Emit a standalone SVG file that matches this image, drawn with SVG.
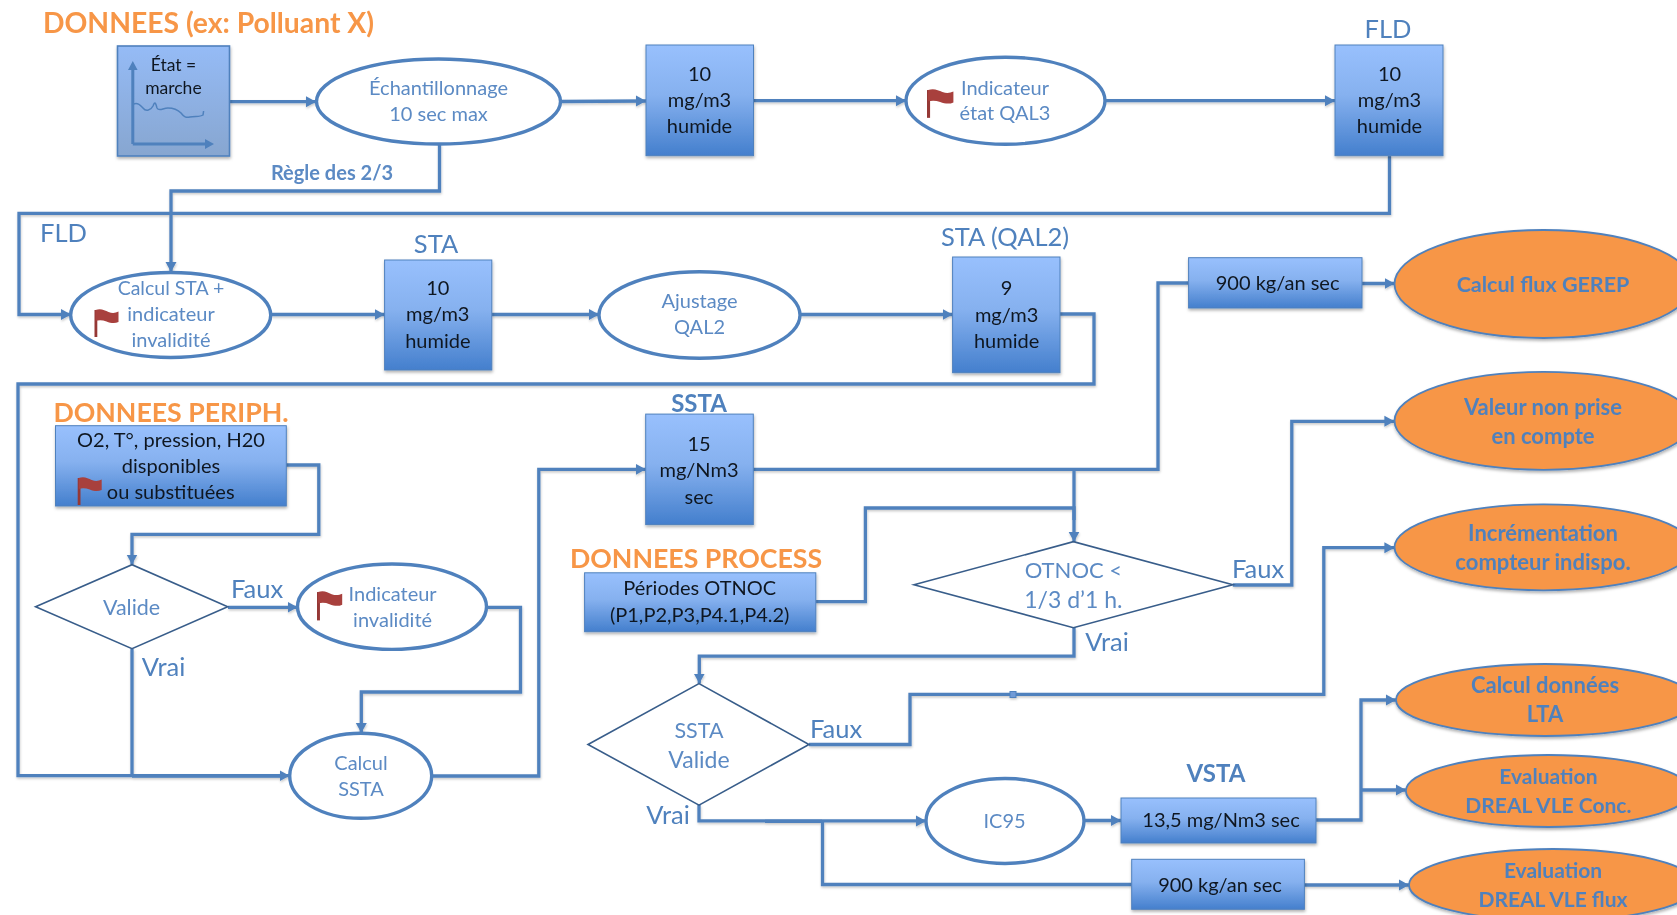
<svg xmlns="http://www.w3.org/2000/svg" xmlns:xlink="http://www.w3.org/1999/xlink" width="1677" height="915" viewBox="0 0 1677 915">
<style>
text{font-family:"Lato","Open Sans","Liberation Sans",sans-serif;text-anchor:middle}
.blk{fill:#111820;font-size:20px}
.blu{fill:#5b8ac4;font-size:20px}
.lab{fill:#4f81bd;font-size:25.5px}
.labb{fill:#4f81bd;font-size:24px;font-weight:700}
.org{fill:#f79646;font-size:26.7px;font-weight:700}
.res{fill:#4f81bd;font-size:22px;font-weight:700}
.box{fill:url(#bg);stroke:#4f81bd;stroke-width:1;filter:url(#sh)}
.ell{fill:#fff;stroke:#4f81bd;stroke-width:3.4}
.oe{fill:#f79646;stroke:#4f81bd;stroke-width:1.8;filter:url(#sh)}
.dia{fill:#fff;stroke:#385d8a;stroke-width:1.6}
.con{fill:none;stroke:#4f81bd;stroke-width:3.3;stroke-linejoin:miter}
.arr{marker-end:url(#ah)}
</style>
<defs>
<linearGradient id="bg" x1="0" y1="0" x2="0" y2="1"><stop offset="0" stop-color="#98c0fd"/><stop offset=".45" stop-color="#86b1ef"/><stop offset="1" stop-color="#447fcd"/></linearGradient>
<linearGradient id="bg2" x1="0" y1="0" x2="0" y2="1"><stop offset="0" stop-color="#95bbf6"/><stop offset="1" stop-color="#87a6d0"/></linearGradient>
<filter id="sh" x="-10%" y="-10%" width="125%" height="130%"><feDropShadow dx="0.5" dy="2" stdDeviation="1.5" flood-color="#000" flood-opacity=".3"/></filter>
<filter id="shl" filterUnits="userSpaceOnUse" x="0" y="0" width="1677" height="915"><feDropShadow dx="0.5" dy="1.5" stdDeviation="1" flood-color="#000" flood-opacity=".22"/></filter>
<filter id="soft" filterUnits="userSpaceOnUse" x="0" y="0" width="1677" height="915"><feGaussianBlur stdDeviation="0.55"/></filter>
<marker id="ah" markerUnits="userSpaceOnUse" markerWidth="11" markerHeight="13" refX="10" refY="6" orient="auto"><path d="M0,0.5 L10,6 L0,11.5 Z" fill="#4f81bd"/></marker>
<g id="flag"><rect x="0" y="1" width="2.8" height="27" fill="#953735"/><path d="M1,1 C6,-1 10,1 14,3 C18,4.5 21,4 24,2.5 L24,13 C20,15 16,14 12,12.5 C8,11 4,11 1,12 Z" fill="#a8403d"/></g>
</defs>
<rect width="1677" height="915" fill="#fff"/>
<g filter="url(#soft)">
<g id="connectors" filter="url(#shl)">
<path class="con arr" d="M230,101.7H316"/>
<path class="con arr" d="M560,101.5L646,101"/>
<path class="con arr" d="M753.5,100.7H906"/>
<path class="con arr" d="M1105,100.7H1335"/>
<path class="con arr" d="M439.5,144V191H171V272"/>
<path class="con arr" d="M1389.5,156V213.3H19V314.5H71"/>
<path class="con arr" d="M271,314.5H384.6"/>
<path class="con arr" d="M491.8,314.5H599"/>
<path class="con arr" d="M800,314.5H952.6"/>
<path class="con arr" d="M1060,314H1094V384H18V775.7H289.5"/>
<path class="con" d="M132,649V775.7"/>
<path class="con" d="M132,776.2H280"/>
<path class="con arr" d="M286,465H318.8V534.3H132V564.5"/>
<path class="con arr" d="M228,607.3H297.5"/>
<path class="con arr" d="M487,607.3H520.5V692H361.3V733"/>
<path class="con arr" d="M431.7,776H538.8V469.3H645.7"/>
<path class="con" d="M753.3,469.3H1158V283H1188"/>
<path class="con arr" d="M1362,283.5H1394.5"/>
<path class="con" d="M1074,469.3V520"/>
<path class="con arr" d="M815.8,601.6H865.4V508H1074V541.7"/>
<path class="con arr" d="M1232.8,585H1291.8V421.3H1394.4"/>
<path class="con arr" d="M1074,627.7V656.2H699.3V683.6"/>
<path class="con arr" d="M809,744.5H910V694.4H1323.8V547.7H1394.4"/>
<path class="con arr" d="M699,805V820.9H926"/>
<path class="con" d="M765,821.4H822"/>
<path class="con" d="M822.5,820.9V884.5H1131.7"/>
<path class="con arr" d="M1085,820.5H1121"/>
<path class="con arr" d="M1316,820H1361V700H1396"/>
<path class="con arr" d="M1361,790H1405.9"/>
<path class="con arr" d="M1304.4,885H1409"/>
<rect x="1010" y="691.5" width="6" height="6" fill="#6f9ad6" stroke="#4f81bd"/>
</g>

<text class="org" x="208.5" y="33" style="font-size:28.3px">DONNEES (ex: Polluant X)</text>
<text class="org" x="171" y="422">DONNEES PERIPH.</text>
<text class="org" x="696" y="567.5">DONNEES PROCESS</text>
<text class="res" x="332" y="180" style="font-size:20px;fill:#5b8ac4">Règle des 2/3</text>
<text class="lab" x="63.5" y="242">FLD</text>
<text class="lab" x="436" y="253">STA</text>
<text class="lab" x="1005" y="246">STA (QAL2)</text>
<text class="lab" x="1388" y="37.5">FLD</text>
<text class="labb" x="699" y="411.5">SSTA</text>
<text class="labb" x="1216" y="782">VSTA</text>
<text class="lab" x="257" y="598">Faux</text>
<text class="lab" x="163.5" y="675.5">Vrai</text>
<text class="lab" x="1258" y="577.5">Faux</text>
<text class="lab" x="1107" y="651">Vrai</text>
<text class="lab" x="836" y="738">Faux</text>
<text class="lab" x="668" y="823.5">Vrai</text>

<g id="etat"><rect x="117.5" y="46" width="112" height="110" fill="url(#bg2)" stroke="#4f81bd" stroke-width="1.6" filter="url(#sh)"/>
<path d="M132.8,144V68M132.8,144H206" fill="none" stroke="#4f81bd" stroke-width="3"/>
<path d="M128,70L132.8,61L137.6,70ZM205,139L214,144L205,149Z" fill="#4f81bd"/>
<path d="M134,104C138,102 141,106 143,108C146,112 151,110 153,106C155,100 156,104 157,108C159,112 163,108 168,108C174,108 178,110 181,113C184,117 186,118 190,117C195,116 200,117 203,115L203.6,111" fill="none" stroke="#4f81bd" stroke-width="1.5"/>
<text class="blk" x="173.4" y="70.5" style="font-size:17.5px">État =</text><text class="blk" x="173.4" y="93.5" style="font-size:17.5px">marche</text></g>
<g id="echantillonnage"><ellipse class="ell" cx="438.5" cy="101.5" rx="122" ry="42.5"/><text class="blu" x="438.5" y="95">Échantillonnage</text><text class="blu" x="438.5" y="121">10 sec max</text></g>
<g id="b10a"><rect class="box" x="646" y="45" width="107.5" height="110.7"/><text class="blk" x="699.5" y="81">10</text><text class="blk" x="699.5" y="107.3">mg/m3</text><text class="blk" x="699.5" y="133">humide</text></g>
<g id="qal3"><ellipse class="ell" cx="1005.5" cy="100.7" rx="99.5" ry="43.5"/><use xlink:href="#flag" href="#flag" transform="translate(927,89) scale(1.1,1.03)"/><text class="blu" x="1005" y="94.5">Indicateur</text><text class="blu" x="1005" y="120">état QAL3</text></g>
<g id="fld"><rect class="box" x="1335" y="45" width="108" height="110.7"/><text class="blk" x="1389.5" y="81">10</text><text class="blk" x="1389.5" y="107.3">mg/m3</text><text class="blk" x="1389.5" y="133">humide</text></g>
<g id="calcsta"><ellipse class="ell" cx="170.7" cy="315" rx="100" ry="42.5"/><use xlink:href="#flag" href="#flag" transform="translate(94.5,309)"/><text class="blu" x="171" y="294.5" style="font-size:19.5px">Calcul STA +</text><text class="blu" x="171" y="321">indicateur</text><text class="blu" x="171" y="347">invalidité</text></g>
<g id="sta"><rect class="box" x="384.6" y="260" width="107.2" height="110"/><text class="blk" x="437.8" y="295">10</text><text class="blk" x="437.8" y="321">mg/m3</text><text class="blk" x="437.8" y="347.5">humide</text></g>
<g id="ajust"><ellipse class="ell" cx="699.5" cy="315" rx="100.5" ry="43.3"/><text class="blu" x="699.5" y="308">Ajustage</text><text class="blu" x="699.5" y="334">QAL2</text></g>
<g id="staq"><rect class="box" x="952.6" y="257" width="107.4" height="115.7"/><text class="blk" x="1006.6" y="295">9</text><text class="blk" x="1006.6" y="321.5">mg/m3</text><text class="blk" x="1006.6" y="347.5">humide</text></g>
<g id="b900a"><rect class="box" x="1188.6" y="257.7" width="173.4" height="50.3"/><text class="blk" x="1277.6" y="290">900 kg/an sec</text></g>
<g id="gerep"><ellipse class="oe" cx="1543.5" cy="284" rx="149" ry="54"/><text class="res" x="1543" y="291.7" style="font-size:21.5px">Calcul flux GEREP</text></g>
<g id="valeur"><ellipse class="oe" cx="1543.5" cy="420.8" rx="149" ry="49"/><text class="res" x="1543" y="415">Valeur non prise</text><text class="res" x="1543" y="444">en compte</text></g>
<g id="incr"><ellipse class="oe" cx="1543.5" cy="547.3" rx="149" ry="43"/><text class="res" x="1543" y="540.7">Incrémentation</text><text class="res" x="1543" y="570">compteur indispo.</text></g>
<g id="lta"><ellipse class="oe" cx="1545" cy="700" rx="149" ry="36"/><text class="res" x="1545" y="692.7">Calcul données</text><text class="res" x="1545" y="721.7">LTA</text></g>
<g id="conc"><ellipse class="oe" cx="1548.4" cy="791" rx="142.5" ry="36"/><text class="res" x="1548.4" y="784" style="font-size:21px">Evaluation</text><text class="res" x="1548.4" y="813" style="font-size:21px">DREAL VLE Conc.</text></g>
<g id="flux"><ellipse class="oe" cx="1553" cy="885" rx="144" ry="36"/><text class="res" x="1553" y="878" style="font-size:21px">Evaluation</text><text class="res" x="1553" y="906.7" style="font-size:21px">DREAL VLE flux</text></g>
<g id="periph"><rect class="box" x="55.5" y="425.7" width="230.8" height="80.3"/><use xlink:href="#flag" href="#flag" transform="translate(77.7,477)"/><text class="blk" x="171" y="446.7">O2, T°, pression, H20</text><text class="blk" x="171" y="472.7">disponibles</text><text class="blk" x="170.7" y="499">ou substituées</text></g>
<g id="valide"><polygon class="dia" points="35.6,606.7 132,564.7 227.7,606.7 132,648.7"/><text class="blu" x="131.6" y="615" style="font-size:21.5px">Valide</text></g>
<g id="indinv"><ellipse class="ell" cx="392" cy="606.7" rx="94.5" ry="42.7"/><use xlink:href="#flag" href="#flag" transform="translate(317,591) scale(1.05,1.05)"/><text class="blu" x="392.6" y="601">Indicateur</text><text class="blu" x="392.6" y="627">invalidité</text></g>
<g id="calcssta"><ellipse class="ell" cx="360.7" cy="775.8" rx="71" ry="42.5"/><text class="blu" x="361" y="770">Calcul</text><text class="blu" x="361" y="796">SSTA</text></g>
<g id="ssta"><rect class="box" x="645.7" y="414.1" width="107.6" height="110.5"/><text class="blk" x="699" y="451">15</text><text class="blk" x="699" y="477">mg/Nm3</text><text class="blk" x="699" y="503.5">sec</text></g>
<g id="process"><rect class="box" x="584.6" y="572.8" width="231.2" height="58.9"/><text class="blk" x="699.7" y="594.9">Périodes OTNOC</text><text class="blk" x="699.7" y="621.7">(P1,P2,P3,P4.1,P4.2)</text></g>
<g id="otnoc"><polygon class="dia" points="914,584.8 1073.4,541.7 1232.8,584.8 1073.4,627.7"/><text class="blu" x="1073.4" y="577.5" style="font-size:22px">OTNOC &lt;</text><text class="blu" x="1073.4" y="608.2" style="font-size:23px">1/3 d’1 h.</text></g>
<g id="ssvalide"><polygon class="dia" points="588,744.5 699,683.6 809,744.5 699,805.1"/><text class="blu" x="699" y="737.5" style="font-size:21.5px">SSTA</text><text class="blu" x="699" y="768.3" style="font-size:23px">Valide</text></g>
<g id="ic95"><ellipse class="ell" cx="1005" cy="821" rx="79" ry="42.5"/><text class="blu" x="1004.6" y="828">IC95</text></g>
<g id="vsta"><rect class="box" x="1121" y="798" width="195" height="45"/><text class="blk" x="1221" y="827">13,5 mg/Nm3 sec</text></g>
<g id="b900b"><rect class="box" x="1131.7" y="859.3" width="172.7" height="50"/><text class="blk" x="1220" y="891.7">900 kg/an sec</text></g>
</g>
</svg>
